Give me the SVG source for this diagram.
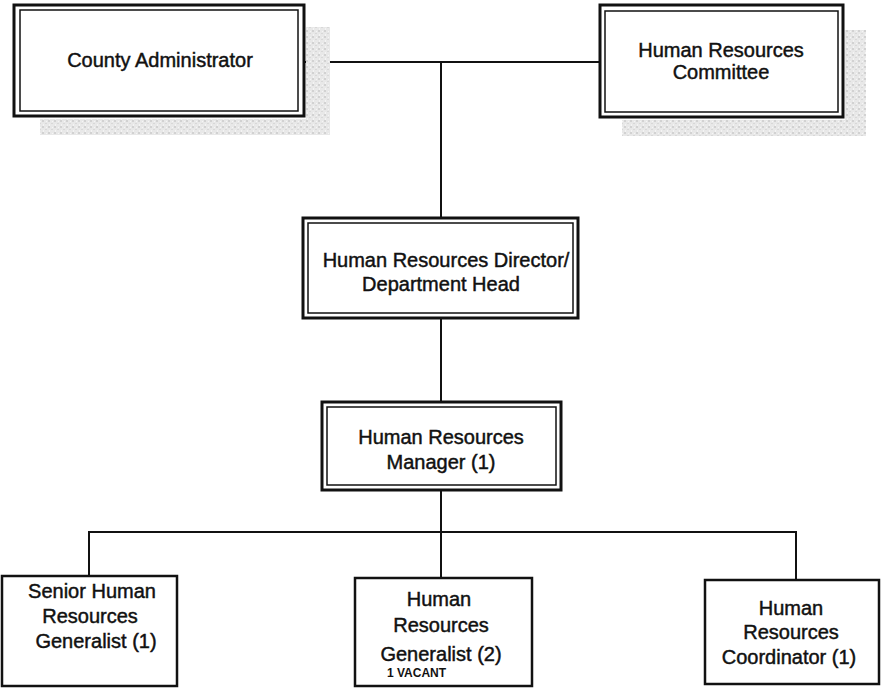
<svg xmlns="http://www.w3.org/2000/svg" width="881" height="689" viewBox="0 0 881 689">
<defs>
<pattern id="speck" width="6" height="6" patternUnits="userSpaceOnUse">
<rect width="6" height="6" fill="#e8e8e8"/>
<rect x="0" y="0" width="2" height="2" fill="#d2d2d2"/>
<rect x="3" y="3" width="2" height="1" fill="#d8d8d8"/>
<rect x="4" y="1" width="1" height="1" fill="#f6f6f6"/>
<rect x="1" y="4" width="1" height="2" fill="#f4f4f4"/>
</pattern>
</defs>
<style>
.outer{fill:#fff;stroke:#111;stroke-width:3}
.inner{fill:none;stroke:#111;stroke-width:1.5}
.single{fill:#fff;stroke:#111;stroke-width:2.5}
.shadow{fill:url(#speck)}
.t{font-family:"Liberation Sans",Arial,sans-serif;font-size:20px;fill:#111;stroke:#111;stroke-width:0.45;text-anchor:middle}
.s{font-family:"Liberation Sans",Arial,sans-serif;font-size:12px;font-weight:bold;fill:#111;text-anchor:start}
.c{stroke:#111;stroke-width:2;fill:none}
</style>
<rect width="881" height="689" fill="#fff"/>
<g id="connectors">
<line class="c" x1="304" y1="62" x2="600" y2="62"/>
<line class="c" x1="441" y1="62" x2="441" y2="218"/>
<line class="c" x1="441" y1="318" x2="441" y2="402"/>
<line class="c" x1="441" y1="490" x2="441" y2="532"/>
<line class="c" x1="88" y1="532" x2="797" y2="532"/>
<line class="c" x1="89" y1="532" x2="89" y2="576"/>
<line class="c" x1="441" y1="532" x2="441" y2="578"/>
<line class="c" x1="796" y1="532" x2="796" y2="580"/>
</g>
<g id="county-administrator">
<rect class="shadow" x="306" y="27" width="24" height="108"/>
<rect class="shadow" x="40" y="119" width="290" height="16"/>
<rect class="outer" x="14" y="5" width="290" height="111"/>
<rect class="inner" x="20" y="10" width="278" height="101"/>
<text class="t" x="160" y="67">County Administrator</text>
</g>
<g id="hr-committee">
<rect class="shadow" x="845" y="30" width="21" height="106"/>
<rect class="shadow" x="622" y="120" width="244" height="16"/>
<rect class="outer" x="600" y="5" width="243" height="112"/>
<rect class="inner" x="605" y="11" width="233" height="101"/>
<text class="t" x="721" y="57">Human Resources</text>
<text class="t" x="721" y="79">Committee</text>
</g>
<g id="hr-director">
<rect class="outer" x="303" y="218" width="275" height="100"/>
<rect class="inner" x="308" y="223" width="265" height="90"/>
<text class="t" x="446" y="267">Human Resources Director/</text>
<text class="t" x="441" y="291">Department Head</text>
</g>
<g id="hr-manager">
<rect class="outer" x="322" y="402" width="239" height="88"/>
<rect class="inner" x="327" y="407" width="229" height="78"/>
<text class="t" x="441" y="444">Human Resources</text>
<text class="t" x="441" y="469">Manager (1)</text>
</g>
<g id="senior-generalist">
<rect class="single" x="2" y="576" width="175" height="110"/>
<text class="t" x="92" y="598">Senior Human</text>
<text class="t" x="90" y="623">Resources</text>
<text class="t" x="96" y="648">Generalist (1)</text>
</g>
<g id="hr-generalist">
<rect class="single" x="355" y="578" width="177" height="108"/>
<text class="t" x="439" y="606">Human</text>
<text class="t" x="441" y="632">Resources</text>
<text class="t" x="441" y="661">Generalist (2)</text>
<text class="s" x="387" y="677">1 VACANT</text>
</g>
<g id="hr-coordinator">
<rect class="single" x="705" y="580" width="174" height="104"/>
<text class="t" x="791" y="615">Human</text>
<text class="t" x="791" y="639">Resources</text>
<text class="t" x="789" y="664">Coordinator (1)</text>
</g>
</svg>
